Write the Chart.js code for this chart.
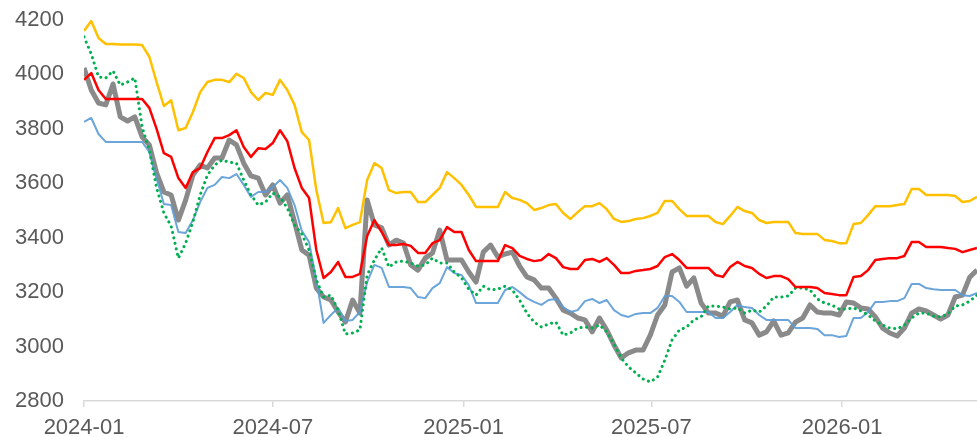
<!DOCTYPE html>
<html>
<head>
<meta charset="utf-8">
<script src="https://cdn.jsdelivr.net/npm/chart.js@4.4.1/dist/chart.umd.min.js"></script>
<style>
  html, body { margin: 0; padding: 0; background: #fff; }
  #wrap { width: 977px; height: 437px; }
</style>
</head>
<body>
<div id="wrap"><canvas id="chart" width="977" height="437"></canvas></div>
<script>
// one value per week, starting 2024-01-01
var stepDays = 7;

var tickDays = [0, 182, 366, 547, 731];
var tickLabels = ["2024-01", "2024-07", "2025-01", "2025-07", "2026-01"];

var yellowSeries = [
  4160, 4196, 4134, 4112, 4112, 4110, 4110, 4110, 4108, 4065,
  3972, 3884, 3905, 3795, 3803, 3862, 3935, 3972, 3980, 3980,
  3972, 4002, 3987, 3935, 3906, 3932, 3925, 3980, 3943, 3888,
  3788, 3759, 3575, 3454, 3457, 3509, 3435, 3447, 3457, 3612,
  3674, 3656, 3575, 3564, 3568, 3568, 3531, 3531, 3557, 3583,
  3641, 3619, 3594, 3557, 3513, 3513, 3513, 3513, 3568, 3546,
  3539, 3527, 3502, 3509, 3520, 3524, 3491, 3469, 3494, 3516,
  3516, 3527, 3505, 3469, 3458, 3461, 3469, 3472, 3480, 3491,
  3535, 3535, 3505, 3480, 3480, 3480, 3480, 3458, 3450, 3480,
  3513, 3498, 3491, 3465, 3454, 3458, 3458, 3458, 3417, 3414,
  3414, 3414, 3392, 3388, 3380, 3380, 3450, 3454, 3483, 3516,
  3516, 3516, 3520, 3524, 3579, 3579, 3557, 3557, 3557, 3557,
  3553, 3531, 3535, 3550
];

var redSeries = [
  3980, 4005, 3943, 3910, 3910, 3910, 3910, 3910, 3910, 3877,
  3800, 3711, 3697, 3619, 3583, 3641, 3656, 3715, 3766, 3766,
  3777, 3795, 3733, 3697, 3729, 3726, 3748, 3795, 3755, 3656,
  3583, 3546, 3355, 3252, 3274, 3311, 3256, 3256, 3267, 3406,
  3465, 3421, 3373, 3373, 3377, 3370, 3344, 3344, 3380, 3391,
  3439, 3421, 3421, 3355, 3314, 3314, 3314, 3314, 3373, 3362,
  3333, 3322, 3314, 3318, 3340, 3325, 3292, 3285, 3285, 3318,
  3322, 3311, 3325, 3300, 3270, 3270, 3278, 3281, 3285, 3296,
  3329, 3340, 3318, 3289, 3289, 3289, 3289, 3263, 3256, 3292,
  3311, 3296, 3289, 3267, 3252, 3259, 3259, 3248, 3219, 3219,
  3219, 3215, 3197, 3193, 3189, 3189, 3256, 3259, 3281, 3318,
  3322, 3325, 3325, 3333, 3384, 3384, 3366, 3366, 3366, 3362,
  3359, 3347, 3355, 3362
];

var blueSeries = [
  3826, 3840, 3781, 3752, 3752, 3752, 3752, 3752, 3752, 3715,
  3619, 3524, 3520, 3421, 3417, 3465, 3531, 3583, 3594, 3623,
  3619, 3634, 3594, 3550, 3568, 3568, 3586, 3612, 3583, 3520,
  3425, 3384, 3245, 3087, 3116, 3142, 3094, 3098, 3127, 3237,
  3300, 3289, 3219, 3219, 3219, 3215, 3182, 3178, 3215, 3233,
  3292, 3270, 3263, 3226, 3160, 3160, 3160, 3160, 3208, 3219,
  3200, 3178, 3164, 3153, 3171, 3175, 3145, 3127, 3134, 3167,
  3175, 3160, 3171, 3134, 3116, 3109, 3120, 3123, 3123, 3142,
  3186, 3186, 3164, 3127, 3127, 3127, 3127, 3105, 3105, 3127,
  3153, 3145, 3142, 3116, 3098, 3098, 3098, 3098, 3068, 3068,
  3068, 3065, 3042, 3042, 3035, 3039, 3105, 3105, 3127, 3164,
  3164, 3167, 3167, 3178, 3230, 3230, 3215, 3211, 3208, 3208,
  3208, 3189, 3186, 3197
];

var graySeries = [
  4024, 3943, 3895, 3888, 3965, 3844, 3829, 3844, 3770, 3741,
  3638, 3568, 3557, 3465, 3538, 3630, 3667, 3656, 3693, 3693,
  3759, 3741, 3674, 3627, 3619, 3557, 3594, 3527, 3557, 3458,
  3355, 3336, 3215, 3182, 3171, 3127, 3090, 3171, 3123, 3539,
  3447, 3436, 3373, 3391, 3380, 3300, 3281, 3325, 3344, 3428,
  3318, 3318, 3318, 3274, 3237, 3347, 3373, 3329, 3340, 3347,
  3296, 3256, 3245, 3215, 3215, 3178, 3134, 3123, 3105, 3098,
  3054, 3105, 3061, 3006, 2958, 2977, 2987, 2987, 3042, 3116,
  3153, 3274, 3289, 3222, 3252, 3160, 3123, 3123, 3112, 3164,
  3171, 3098, 3087, 3042, 3054, 3094, 3042, 3050, 3090, 3105,
  3153, 3127, 3123, 3123, 3116, 3164, 3160, 3142, 3138, 3109,
  3068, 3050, 3039, 3068, 3123, 3138, 3131, 3116, 3101, 3116,
  3182, 3189, 3255, 3281
];

var greenSeries = [
  4138, 4075, 3991, 3987, 4013, 3961, 3972, 3987, 3807, 3722,
  3583, 3491, 3443, 3325, 3380, 3458, 3557, 3630, 3667, 3685,
  3678, 3674, 3612, 3557, 3520, 3531, 3564, 3550, 3509, 3447,
  3414, 3355, 3245, 3182, 3189, 3134, 3046, 3050, 3061, 3263,
  3318, 3362, 3292, 3311, 3314, 3307, 3296, 3300, 3325, 3307,
  3307, 3274, 3252, 3211, 3189, 3222, 3208, 3211, 3222, 3208,
  3171, 3123, 3090, 3072, 3083, 3090, 3042, 3050, 3068, 3072,
  3068, 3079, 3054, 3010, 2958, 2925, 2903, 2881, 2870, 2888,
  2950, 3024, 3061, 3072, 3098, 3109, 3149, 3149, 3145, 3138,
  3142, 3123, 3134, 3127, 3149, 3182, 3182, 3186, 3215, 3215,
  3208, 3175, 3160, 3153, 3138, 3138, 3142, 3131, 3116, 3094,
  3079, 3068, 3065, 3079, 3105, 3123, 3123, 3112, 3109, 3120,
  3149, 3153, 3167, 3189
];

function toPoints(values) {
  return values.map(function(v, i) { return { x: i * stepDays, y: v }; });
}

var lastDay = (yellowSeries.length - 1) * stepDays;

var chartData = {
  datasets: [
    { label: "yellow", data: toPoints(yellowSeries), borderColor: "#FFC000", borderWidth: 2.5, order: 1 },
    { label: "red", data: toPoints(redSeries), borderColor: "#FF0000", borderWidth: 2.5, order: 2 },
    { label: "green", data: toPoints(greenSeries), borderColor: "#00B050", borderWidth: 3,
      borderDash: [0.1, 5.5], borderCapStyle: "round", order: 3 },
    { label: "blue", data: toPoints(blueSeries), borderColor: "rgba(91,155,213,0.9)", borderWidth: 2, order: 4 },
    { label: "gray", data: toPoints(graySeries), borderColor: "#8A8A8A", borderWidth: 5, order: 5 }
  ]
};

var labelFont = { family: "'Liberation Sans', Arial, sans-serif", size: 22 };

var chartOptions = {
  responsive: false,
  animation: false,
  layout: { padding: { top: 20, right: 0, left: 0, bottom: 0 } },
  elements: {
    point: { radius: 0 },
    line: { tension: 0, fill: false, borderJoinStyle: "round" }
  },
  plugins: { legend: { display: false }, tooltip: { enabled: false } },
  scales: {
    x: {
      type: "linear",
      min: 0,
      max: lastDay,
      afterFit: function(scale) {
        scale.height = 36;
        scale.paddingLeft = 0;
        scale.paddingRight = 0;
      },
      afterBuildTicks: function(scale) {
        scale.ticks = tickDays.map(function(d) { return { value: d }; });
      },
      border: { display: true, color: "#D9D9D9", width: 1.5 },
      grid: { drawOnChartArea: false, drawTicks: true, tickLength: 6, color: "#D9D9D9", lineWidth: 1.5 },
      ticks: {
        autoSkip: false,
        maxRotation: 0,
        padding: 8,
        color: "#595959",
        font: labelFont,
        callback: function(value) {
          var k = tickDays.indexOf(value);
          return k >= 0 ? tickLabels[k] : "";
        }
      }
    },
    y: {
      min: 2800,
      max: 4200,
      afterFit: function(scale) {
        scale.width = 84;
        scale.paddingTop = 0;
        scale.paddingBottom = 0;
      },
      border: { display: false },
      grid: { display: false, drawTicks: false },
      ticks: {
        stepSize: 200,
        padding: 20,
        color: "#595959",
        font: labelFont,
        callback: function(value) { return String(value); }
      }
    }
  }
};

var ctx = document.getElementById("chart").getContext("2d");
var chart = new Chart(ctx, { type: "line", data: chartData, options: chartOptions });
</script>
</body>
</html>
